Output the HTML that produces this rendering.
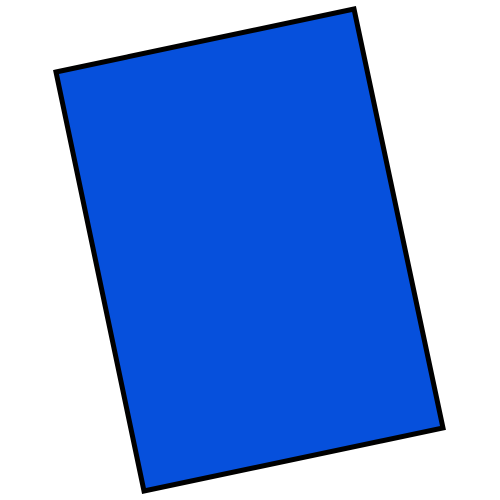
<!DOCTYPE html>
<html><head><meta charset="utf-8"><style>html,body{margin:0;padding:0;background:#fff;}svg{display:block;}</style></head>
<body>
<svg width="500" height="500" viewBox="0 0 500 500">
<polygon points="56,72 354,9 443,428 144,491" fill="#0650DC" stroke="#000" stroke-width="5" stroke-linejoin="miter"/>
</svg>
</body></html>
